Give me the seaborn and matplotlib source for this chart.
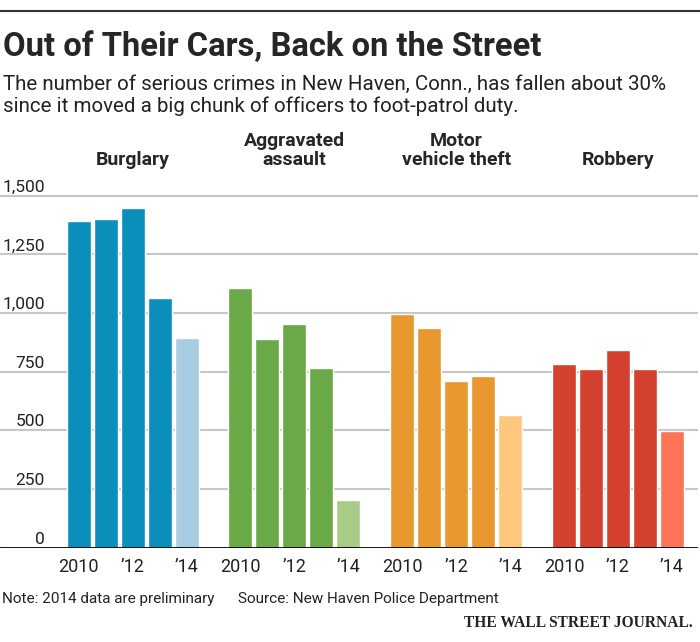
import numpy as np
import pandas as pd
import seaborn as sns
import matplotlib
matplotlib.use("Agg")
import matplotlib.pyplot as plt
import matplotlib.transforms as mtransforms

# data (2014 preliminary)
crimes = ["Burglary", "Aggravated\nassault", "Motor\nvehicle theft", "Robbery"]
years = [2010, 2011, 2012, 2013, 2014]
year_labels = {2010: "2010", 2012: "\u201912", 2014: "\u201914"}
burglary = [1392, 1399, 1448, 1062, 892]
agg_assault = [1105, 888, 952, 767, 203]
motor_theft = [996, 937, 711, 731, 564]
robbery = [784, 763, 842, 763, 498]
dark_colors = ["#0a8fba", "#6aa947", "#e9982f", "#d4412f"]
light_colors = ["#a6cde1", "#a8cb88", "#fec77c", "#fc7357"]
y_ticks = [0, 250, 500, 750, 1000, 1250, 1500]

rows = []
for g, (crime, vals) in enumerate(zip(crimes, [burglary, agg_assault, motor_theft, robbery])):
    for i, (yr, v) in enumerate(zip(years, vals)):
        rows.append({"crime": crime, "year": yr, "count": v,
                     "pos": g * 6 + i, "shade": f"{g}{'p' if yr == 2014 else 'f'}"})
df = pd.DataFrame(rows)
palette = {}
for g in range(4):
    palette[f"{g}f"] = dark_colors[g]
    palette[f"{g}p"] = light_colors[g]

sns.set_style("white")
plt.rcParams["font.family"] = ["Roboto", "DejaVu Sans"]
txt = "#222222"

W, H = 700, 642
fig = plt.figure(figsize=(W / 100, H / 100), dpi=100)
y0_px, y1500_px = 547.7, 195.7
ytop = 1540
ax_h = (y0_px - y1500_px) * ytop / 1500 / H
ax = fig.add_axes([0, 1 - y0_px / H, 698 / W, ax_h])

for t in y_ticks[1:]:
    ax.axhline(t, color="#c6c6c6", lw=1.5, zorder=0)

sns.barplot(data=df, x="pos", y="count", hue="shade", palette=palette,
            native_scale=True, dodge=False, width=0.89, saturation=1,
            errorbar=None, legend=False, ax=ax, zorder=2)
ax.axhline(0, color="black", lw=2, zorder=3)

ax.set_xlim(-2.92, 22.97)
ax.set_ylim(0, ytop)
ax.set_xticks([])
ax.set_yticks([])
ax.set_xlabel("")
ax.set_ylabel("")
sns.despine(ax=ax, left=True, bottom=True)

# y labels sit on top of the grid lines
ytr = mtransforms.offset_copy(
    mtransforms.blended_transform_factory(fig.transFigure, ax.transData),
    fig=fig, y=4, units="dots")
for t in y_ticks:
    ax.text(45 / W, t, f"{t:,}", transform=ytr, ha="right", va="baseline",
            fontsize=12.5, color=txt)

# year labels and group headings
xtr = mtransforms.blended_transform_factory(ax.transData, fig.transFigure)
for g in range(4):
    for yr, lab in year_labels.items():
        ax.text(g * 6 + (yr - 2010), 1 - 572 / H, lab, transform=xtr,
                ha="center", va="baseline", fontsize=13, color=txt)
    ax.text(g * 6 + 2, 1 - 165 / H, crimes[g], transform=xtr, ha="center",
            va="baseline", fontsize=14, fontweight="bold", linespacing=1.1)

# header
fig.add_artist(plt.Line2D([0, 1], [1 - 11 / H, 1 - 11 / H], color="#333333", lw=1.5))
fig.text(3 / W, 1 - 56 / H, "Out of Their Cars, Back on the Street",
         fontsize=23.6, fontweight="bold", va="baseline")
fig.text(3 / W, 1 - 112 / H,
         "The number of serious crimes in New Haven, Conn., has fallen about 30%\n"
         "since it moved a big chunk of officers to foot-patrol duty.",
         fontsize=14.8, va="baseline", linespacing=1.18, color=txt)

# footer
fig.text(2 / W, 1 - 603 / H, "Note: 2014 data are preliminary",
         fontsize=11, va="baseline", color=txt)
fig.text(238 / W, 1 - 603 / H, "Source: New Haven Police Department",
         fontsize=11, va="baseline", color=txt)
fig.text(693 / W, 1 - 627 / H, "THE WALL STREET JOURNAL.", ha="right",
         va="baseline", fontsize=11.2, fontweight="bold",
         family=["Liberation Serif", "DejaVu Serif"], color=txt)

fig.savefig("out.png", dpi=100)
